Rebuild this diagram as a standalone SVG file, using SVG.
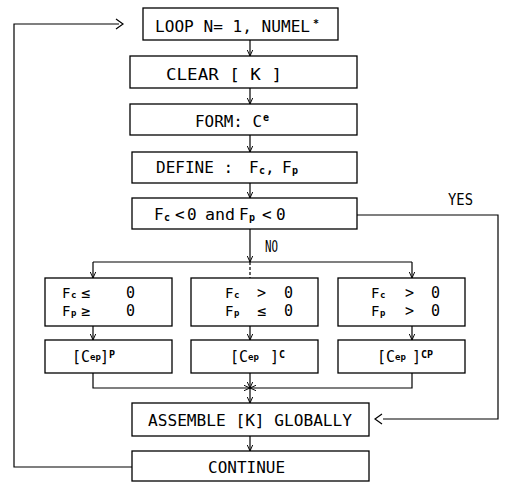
<svg xmlns="http://www.w3.org/2000/svg" width="506" height="482" viewBox="0 0 506 482">
<style>
.bx{fill:#fff;stroke:#000;stroke-width:1.3}
.t{font-family:"DejaVu Sans Mono","Liberation Mono",monospace;font-size:16px;fill:#000}
.m{font-family:"DejaVu Sans Mono","Liberation Mono",monospace;font-size:14px;fill:#000}
.r{font-family:"DejaVu Sans Mono","Liberation Mono",monospace;font-size:15px;fill:#000}
.s{font-size:10px;font-weight:bold}
.u{font-size:9px;font-weight:bold}
.q{font-size:9px;font-weight:bold}
.y{font-size:15px}
.c{fill:none;stroke:#000;stroke-width:1.2}
</style>
<defs>
<marker id="a" viewBox="0 0 10 10" refX="10" refY="5" markerWidth="6" markerHeight="6" markerUnits="userSpaceOnUse" orient="auto">
<path d="M0,0.5 L10,5 L0,9.5" fill="none" stroke="#000" stroke-width="1.6"/>
</marker>
</defs>
<rect width="506" height="482" fill="#fff"/>
<g id="connectors">
<line class="c" x1="250" y1="40" x2="250" y2="56" marker-end="url(#a)"/>
<line class="c" x1="250" y1="88" x2="250" y2="104" marker-end="url(#a)"/>
<line class="c" x1="250" y1="135" x2="250" y2="152" marker-end="url(#a)"/>
<line class="c" x1="250" y1="183" x2="250" y2="198" marker-end="url(#a)"/>
<line class="c" x1="250" y1="229" x2="250" y2="262" marker-end="url(#a)"/>
<line class="c" x1="93" y1="262" x2="412" y2="262"/>
<line class="c" x1="93" y1="262" x2="93" y2="278" marker-end="url(#a)"/>
<line class="c" x1="412" y1="262" x2="412" y2="278" marker-end="url(#a)"/>
<line class="c" x1="250" y1="262" x2="250" y2="278" stroke-dasharray="3,2" stroke-width="0.8"/>
<line class="c" x1="93" y1="326" x2="93" y2="340" marker-end="url(#a)"/>
<line class="c" x1="250" y1="326" x2="250" y2="340" marker-end="url(#a)"/>
<line class="c" x1="412" y1="326" x2="412" y2="340" marker-end="url(#a)"/>
<polyline class="c" points="93,373 93,388 250,388" marker-end="url(#a)"/>
<polyline class="c" points="412,373 412,388 250,388" marker-end="url(#a)"/>
<line class="c" x1="250" y1="373" x2="250" y2="388" marker-end="url(#a)"/>
<line class="c" x1="250" y1="388" x2="250" y2="403" marker-end="url(#a)"/>
<line class="c" x1="250" y1="436" x2="250" y2="451" marker-end="url(#a)"/>
<polyline class="c" points="357,215 498,215 498,419 383,419"/>
<polyline class="c" points="382,414 375,419 382,424"/>
<polyline class="c" points="132,467 14,467 14,24 119,24"/>
<polyline class="c" points="116,19 123,24 116,29"/>
<text class="t" x="448" y="205" textLength="25" lengthAdjust="spacingAndGlyphs">YES</text>
<text class="t" x="265" y="252" textLength="13" lengthAdjust="spacingAndGlyphs">NO</text>
</g>
<g id="loop">
<rect class="bx" x="143" y="8" width="195" height="32"/>
<text class="t" x="155" y="32"><tspan textLength="155" lengthAdjust="spacingAndGlyphs">LOOP N= 1, NUMEL</tspan><tspan class="s" x="313" y="27">*</tspan></text>
</g>
<g id="clear">
<rect class="bx" x="130" y="56" width="227" height="32"/>
<text class="t" x="166" y="80" textLength="116" lengthAdjust="spacingAndGlyphs">CLEAR  [ K ]</text>
</g>
<g id="form">
<rect class="bx" x="130" y="104" width="227" height="31"/>
<text class="t" x="195" y="127"><tspan textLength="67" lengthAdjust="spacingAndGlyphs">FORM: C</tspan><tspan class="s" x="263" y="121">e</tspan></text>
</g>
<g id="define">
<rect class="bx" x="132" y="152" width="225" height="31"/>
<text class="t" x="156" y="173"><tspan textLength="77" lengthAdjust="spacingAndGlyphs">DEFINE :</tspan><tspan x="249">F</tspan><tspan class="s" x="259" y="174">c</tspan><tspan x="265" y="173">,</tspan><tspan x="282">F</tspan><tspan class="s" x="292" y="174">p</tspan></text>
</g>
<g id="test">
<rect class="bx" x="132" y="198" width="225" height="31"/>
<text class="t" x="154" y="220">F<tspan class="s" x="164" y="221">c</tspan><tspan x="175" y="220">&lt;</tspan><tspan x="187">0</tspan><tspan x="205" textLength="30" lengthAdjust="spacingAndGlyphs">and</tspan><tspan x="239">F</tspan><tspan class="s" x="249" y="221">p</tspan><tspan x="262" y="220">&lt;</tspan><tspan x="276">0</tspan></text>
</g>
<g id="case-p">
<rect class="bx" x="45" y="278" width="127" height="48"/>
<text class="m" x="62" y="298">F<tspan class="u" x="71" y="298">c</tspan><tspan class="y" x="81" y="298">≤</tspan><tspan class="y" x="126" y="298">0</tspan><tspan x="62" y="316">F</tspan><tspan class="u" x="71" y="316">p</tspan><tspan class="y" x="81" y="316">≥</tspan><tspan class="y" x="126" y="316">0</tspan></text>
</g>
<g id="case-c">
<rect class="bx" x="191" y="278" width="127" height="48"/>
<text class="m" x="225" y="298">F<tspan class="u" x="234" y="298">c</tspan><tspan class="y" x="257" y="298">&gt;</tspan><tspan class="y" x="284" y="298">0</tspan><tspan x="225" y="316">F</tspan><tspan class="u" x="234" y="316">p</tspan><tspan class="y" x="257" y="316">≤</tspan><tspan class="y" x="284" y="316">0</tspan></text>
</g>
<g id="case-cp">
<rect class="bx" x="338" y="278" width="127" height="48"/>
<text class="m" x="371" y="298">F<tspan class="u" x="380" y="298">c</tspan><tspan class="y" x="405" y="298">&gt;</tspan><tspan class="y" x="431" y="298">0</tspan><tspan x="371" y="316">F</tspan><tspan class="u" x="380" y="316">p</tspan><tspan class="y" x="405" y="316">&gt;</tspan><tspan class="y" x="431" y="316">0</tspan></text>
</g>
<g id="cep-p">
<rect class="bx" x="45" y="340" width="127" height="33"/>
<text class="r" x="72" y="362">[C<tspan class="q" x="90" y="360">ep</tspan><tspan x="100" y="362">]</tspan><tspan class="s" x="109" y="358">P</tspan></text>
</g>
<g id="cep-c">
<rect class="bx" x="191" y="340" width="127" height="33"/>
<text class="r" x="230" y="362">[C<tspan class="q" x="248" y="360">ep</tspan><tspan x="270" y="362">]</tspan><tspan class="s" x="279" y="358">C</tspan></text>
</g>
<g id="cep-cp">
<rect class="bx" x="338" y="340" width="127" height="33"/>
<text class="r" x="377" y="362">[C<tspan class="q" x="395" y="360">ep</tspan><tspan x="412" y="362">]</tspan><tspan class="s" x="421" y="358">CP</tspan></text>
</g>
<g id="assemble">
<rect class="bx" x="132" y="403" width="237" height="33"/>
<text class="t" x="148" y="426" textLength="204" lengthAdjust="spacingAndGlyphs">ASSEMBLE [K] GLOBALLY</text>
</g>
<g id="continue">
<rect class="bx" x="132" y="451" width="237" height="30"/>
<text class="t" x="208" y="473" textLength="77" lengthAdjust="spacingAndGlyphs">CONTINUE</text>
</g>
</svg>
